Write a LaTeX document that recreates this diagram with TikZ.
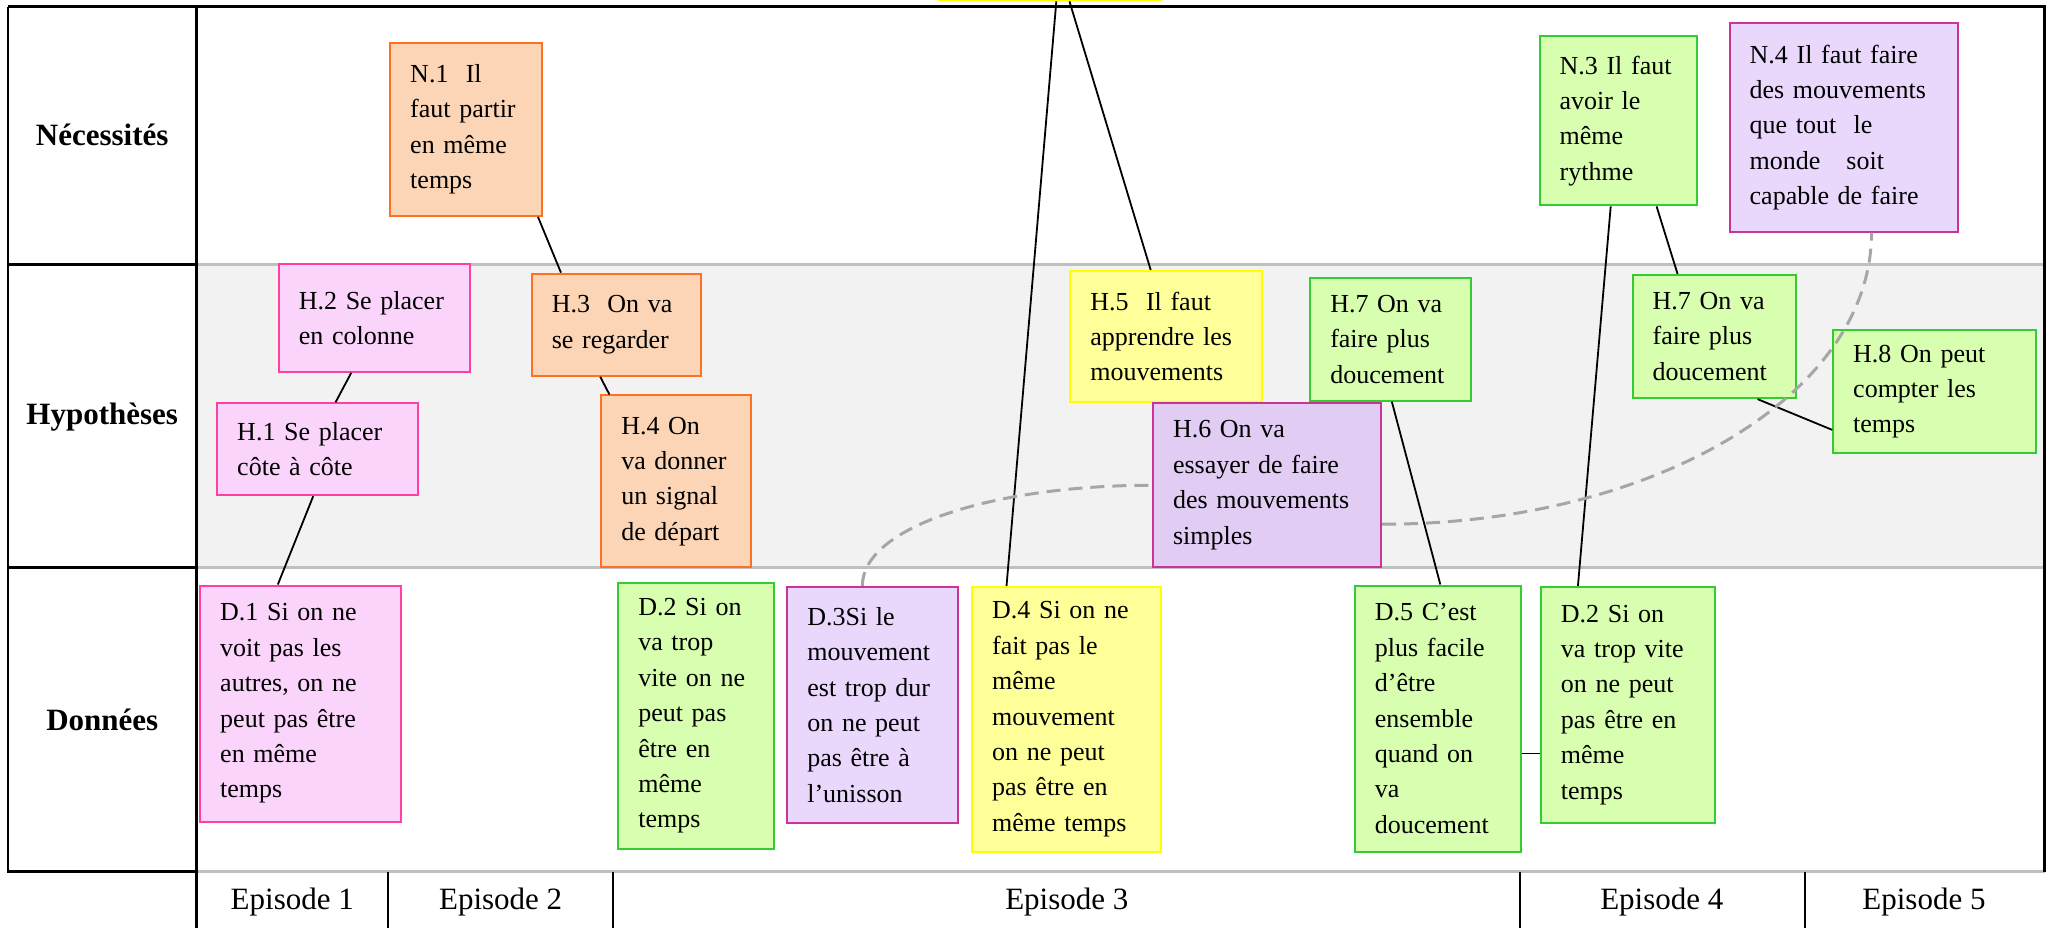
\documentclass[tikz,border=0pt]{standalone}
\usepackage{fontspec}
\setmainfont{Liberation Serif}
\usepackage{tikz}
\usetikzlibrary{calc}

\definecolor{orfill}{RGB}{251,213,181}
\definecolor{ordraw}{RGB}{255,112,32}
\definecolor{pkfill}{RGB}{250,212,250}
\definecolor{pkdraw}{RGB}{255,64,160}
\definecolor{yefill}{RGB}{255,255,153}
\definecolor{yedraw}{RGB}{255,255,0}
\definecolor{grfill}{RGB}{216,255,176}
\definecolor{grdraw}{RGB}{51,204,51}
\definecolor{lvfill}{RGB}{234,216,252}
\definecolor{lvdark}{RGB}{225,204,244}
\definecolor{lvdraw}{RGB}{204,51,153}
\definecolor{rowgray}{RGB}{242,242,242}
\definecolor{linegray}{RGB}{191,191,191}
\definecolor{dashgray}{RGB}{166,166,166}

\begin{document}
\begin{tikzpicture}[x=0.6553pt,y=-0.6553pt,
box/.style={rectangle,draw,line width=1pt,anchor=north west,align=left,inner xsep=10pt,inner ysep=0pt,font=\fontsize{13}{17.7}\selectfont},
obox/.style={box,fill=orfill,draw=ordraw},
pbox/.style={box,fill=pkfill,draw=pkdraw},
ybox/.style={box,fill=yefill,draw=yedraw},
gbox/.style={box,fill=grfill,draw=grdraw},
lbox/.style={box,fill=lvfill,draw=lvdraw},
head/.style={font=\fontsize{15.5}{18}\selectfont\bfseries},
epi/.style={font=\fontsize{15.5}{18}\selectfont},
link/.style={line width=0.9pt},
weak/.style={line width=1.5pt,draw=dashgray,dash pattern=on 7pt off 4pt}]

\useasboundingbox (0,0) rectangle (1568,708);

% table
\fill[rowgray] (150,202) rectangle (1560,433);
\draw[linegray,line width=1.3pt] (150,202) -- (1560,202) (150,433) -- (1560,433) (150,665) -- (1560,665);
\draw[line width=1.3pt] (6,5) -- (1560,5) -- (1560,665) (6,5) -- (6,665) -- (150,665) (150,5) -- (150,708)
  (6,202) -- (150,202) (6,433) -- (150,433);
\draw[line width=0.9pt] (296,665) -- (296,708) (468,665) -- (468,708) (1160,665) -- (1160,708) (1377,665) -- (1377,708);

\node[head] (nec) at (78,103) {Nécessités};
\node[head] (hyp) at (78,318) {Hypothèses};
\node[head] (don) at (78,549) {Données};
\node[epi] (ep1) at (223,688) {Episode 1};
\node[epi] (ep2) at (382,688) {Episode 2};
\node[epi] (ep3) at (814,688) {Episode 3};
\node[epi] (ep4) at (1268,688) {Episode 4};
\node[epi] (ep5) at (1468,688) {Episode 5};

% necessites
\node[ybox,anchor=south west,minimum width=110.7pt,minimum height=40pt] (T) at (716,1) {};
\node[obox,minimum width=76pt,minimum height=86.5pt,text width=56pt] (N1) at (297,32) {N.1\ \ Il\\faut partir\\en même\\temps};
\node[gbox,minimum width=78.6pt,minimum height=84.5pt,text width=58.6pt] (N3) at (1174,27) {N.3 Il faut\\avoir le\\même\\rythme};
\node[lbox,minimum width=114pt,minimum height=104.2pt,text width=94pt] (N4) at (1319,17) {N.4 Il faut faire\\des mouvements\\que tout\ \ le\\monde\ \ \ soit\\capable de faire};

% hypotheses
\node[pbox,minimum width=95.7pt,minimum height=53.7pt,text width=75.7pt] (H2) at (212,201) {H.2 Se placer\\en colonne};
\node[pbox,minimum width=100.3pt,minimum height=45.9pt,text width=80.3pt] (H1) at (165,307) {H.1 Se placer\\côte à côte};
\node[obox,minimum width=84.5pt,minimum height=51.1pt,text width=64.5pt] (H3) at (405,208) {H.3\ \ On va\\se regarder};
\node[obox,minimum width=74.7pt,minimum height=85.8pt,text width=54.7pt] (H4) at (458,301) {H.4 On\\va donner\\un signal\\de départ};
\node[ybox,minimum width=95.7pt,minimum height=65.5pt,text width=75.7pt] (H5) at (816,206) {H.5\ \ Il faut\\apprendre les\\mouvements};
\node[lbox,fill=lvdark,minimum width=114pt,minimum height=81.9pt,text width=94pt] (H6) at (879,307) {H.6 On va\\essayer de faire\\des mouvements\\simples};
\node[gbox,minimum width=80.6pt,minimum height=61.6pt,text width=60.6pt] (H7a) at (999,211) {H.7 On va\\faire plus\\doucement};
\node[gbox,minimum width=81.9pt,minimum height=61.6pt,text width=61.9pt] (H7b) at (1245,209) {H.7 On va\\faire plus\\doucement};
\node[gbox,minimum width=101.6pt,minimum height=61.6pt,text width=81.6pt] (H8) at (1398,251) {H.8 On peut\\compter les\\temps};

% donnees
\node[pbox,minimum width=100.3pt,minimum height=118pt,text width=80.3pt] (D1) at (152,446) {D.1 Si on ne\\voit pas les\\autres, on ne\\peut pas être\\en même\\temps};
\node[gbox,minimum width=78pt,minimum height=133pt,text width=58pt] (D2a) at (471,444) {D.2 Si on\\va trop\\vite on ne\\peut pas\\être en\\même\\temps};
\node[lbox,minimum width=85.2pt,minimum height=118pt,text width=65.2pt] (D3) at (600,447) {D.3Si le\\mouvement\\est trop dur\\on ne peut\\pas être à\\l’unisson};
\node[ybox,minimum width=94.4pt,minimum height=132.4pt,text width=74.4pt] (D4) at (741,447) {D.4 Si on ne\\fait pas le\\même\\mouvement\\on ne peut\\pas être en\\même temps};
\node[gbox,minimum width=83.2pt,minimum height=133pt,text width=63.2pt] (D5) at (1033,446) {D.5 C’est\\plus facile\\d’être\\ensemble\\quand on\\va\\doucement};
\node[gbox,minimum width=87.2pt,minimum height=118pt,text width=67.2pt] (D2b) at (1175,447) {D.2 Si on\\va trop vite\\on ne peut\\pas être en\\même\\temps};

% links
\draw[link] ($(N1.south east)+(-4,0)$) -- ($(H3.north west)+(23,0)$);
\draw[link] ($(H3.south west)+(53,0)$) -- ($(H4.north west)+(7,0)$);
\draw[link] ($(H2.south west)+(56,0)$) -- ($(H1.north west)+(91,0)$);
\draw[link] ($(H1.south west)+(74,0)$) -- ($(D1.north west)+(60,0)$);
\draw[link] ($(T.south west)+(90,0)$) -- ($(D4.north west)+(27,0)$);
\draw[link] ($(T.south west)+(100,0)$) -- ($(H5.north west)+(62,0)$);
\draw[link] ($(H7a.south west)+(63,0)$) -- ($(D5.north west)+(66,0)$);
\draw[link] ($(N3.south west)+(55,0)$) -- ($(D2b.north west)+(29,0)$);
\draw[link] ($(N3.south west)+(90,0)$) -- ($(H7b.north west)+(35,0)$);
\draw[link] ($(H7b.south west)+(96,0)$) -- ($(H8.north west)+(0,77)$);
\draw[link] ($(D5.north east)+(0,129)$) -- ($(D2b.north west)+(0,128)$);
\draw[weak] ($(D3.north west)+(58,0)$) .. controls +(0,-45) and +(-121,0) .. (H6.west);
\draw[weak] ($(H6.north east)+(0,93)$) .. controls +(207,0) and +(0,124) .. ($(N4.south west)+(109,0)$);
\end{tikzpicture}
\end{document}
